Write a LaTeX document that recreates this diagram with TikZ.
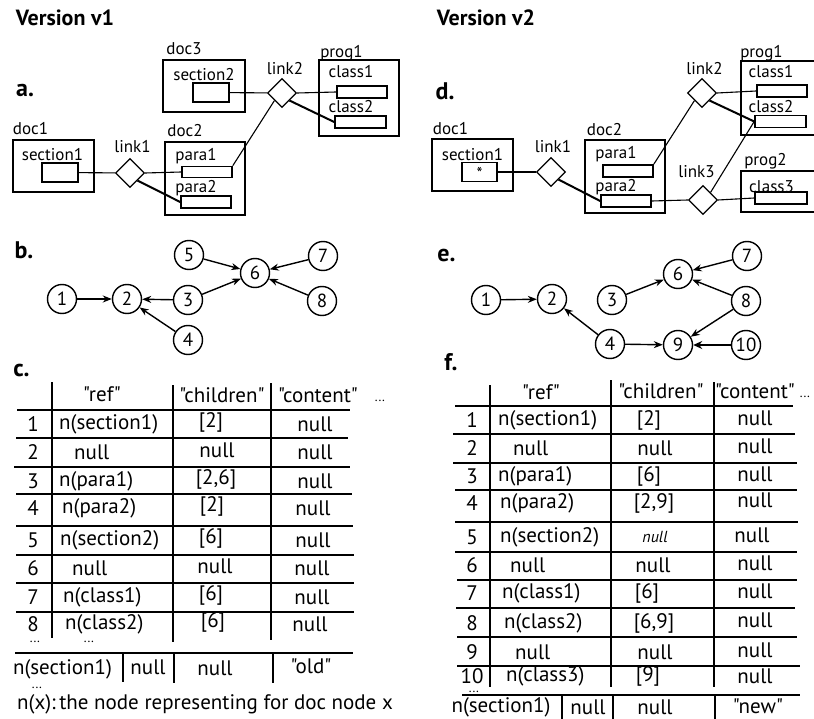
\documentclass[tikz,border=0pt]{standalone}
\usepackage{fontspec}
\setmainfont{PT Sans}[Ligatures=TeXOff]
\usetikzlibrary{shapes.geometric,arrows.meta}
\begin{document}
\begin{tikzpicture}[x=1pt,y=-1pt,
  box/.style={draw, line width=1.8pt, inner sep=0},
  slot/.style={draw, line width=1.6pt, inner sep=0},
  dia/.style={draw, diamond, aspect=1, minimum size=29, inner sep=0, line width=1.2pt},
  lbl/.style={font=\fontsize{17}{17}\selectfont, inner sep=0},
  conn/.style={line width=1.1pt},
  connb/.style={line width=2pt},
  vx/.style={circle, draw, line width=1.4pt, minimum size=29, inner sep=0, font=\fontsize{19}{19}\selectfont},
  arr/.style={line width=1.4pt, -{Stealth[length=9pt,width=7pt]}},
  arrb/.style={line width=2.6pt, -{Stealth[length=9pt,width=8pt]}},
  tl/.style={font=\fontsize{21}{21}\selectfont, inner sep=0},
  dots/.style={font=\fontsize{13}{13}\selectfont, inner sep=0},
  rule/.style={line width=1.5pt},
  panel/.style={font=\bfseries\fontsize{24}{24}\selectfont, inner sep=0},
  ttl/.style={font=\bfseries\fontsize{22}{22}\selectfont, inner sep=0}]
\clip (0,0) rectangle (814,719);
\fill[white] (0,0) rectangle (814,719);

% ---------- titles ----------
\node[ttl] (t1) at (65,17.5) {Version v1};
\node[ttl] (t2) at (486,17.5) {Version v2};

% ---------- panel a ----------
\node[panel] (pa) at (25,91) {a.};
\node[box, minimum width=82, minimum height=52] (a-doc3) at (204,86) {};
\node[lbl] (a-doc3l) at (184,49) {doc3};
\node[lbl] (a-sec2l) at (204,75) {section2};
\node[slot, minimum width=36, minimum height=19] (a-sec2) at (211,92.5) {};
\node[dia] (a-link2) at (282,93) {};
\node[lbl] (a-link2l) at (285,68.5) {link2};
\node[box, minimum width=80, minimum height=76] (a-prog1) at (359,98) {};
\node[lbl] (a-prog1l) at (341.5,53.5) {prog1};
\node[lbl] (a-cl1l) at (351,71.5) {class1};
\node[slot, minimum width=50, minimum height=12] (a-cl1) at (362,92) {};
\node[lbl] (a-cl2l) at (351,106.5) {class2};
\node[slot, minimum width=51, minimum height=12] (a-cl2) at (360.5,122) {};
\node[box, minimum width=81, minimum height=52] (a-doc1) at (53.5,166) {};
\node[lbl] (a-doc1l) at (30.5,129) {doc1};
\node[lbl] (a-sec1l) at (52.5,155) {section1};
\node[slot, minimum width=36, minimum height=19] (a-sec1) at (60,172.5) {};
\node[dia] (a-link1) at (130,173) {};
\node[lbl] (a-link1l) at (132.5,146.5) {link1};
\node[box, minimum width=80, minimum height=73] (a-doc2) at (205,178.5) {};
\node[lbl] (a-doc2l) at (185,131) {doc2};
\node[lbl] (a-p1l) at (196,156) {para1};
\node[slot, minimum width=50, minimum height=11] (a-p1) at (207,172) {};
\node[lbl] (a-p2l) at (196,188.5) {para2};
\node[slot, minimum width=50, minimum height=12] (a-p2) at (206,202) {};
\draw[conn] (a-sec1) -- (a-link1);
\draw[conn] (a-link1.east) -- (a-p1.west);
\draw[connb] (a-link1.south east) -- (a-p2.west);
\draw[conn] (a-p1.north east) -- (a-link2.south west);
\draw[conn] (a-sec2) -- (a-link2);
\draw[conn] (a-link2.east) -- (a-cl1.west);
\draw[connb] (a-link2.south east) -- (a-cl2.west);

% ---------- panel d ----------
\node[panel] (pd) at (445,91) {d.};
\node[box, minimum width=80, minimum height=74] (d-prog1) at (781,98) {};
\node[lbl] (d-prog1l) at (761.5,53.5) {prog1};
\node[lbl] (d-cl1l) at (771,71.5) {class1};
\node[slot, minimum width=50, minimum height=12] (d-cl1) at (782,91) {};
\node[lbl] (d-cl2l) at (771,106.5) {class2};
\node[slot, minimum width=51, minimum height=12] (d-cl2) at (780.5,121.5) {};
\node[dia] (d-link2) at (702,93) {};
\node[lbl] (d-link2l) at (704.5,69) {link2};
\node[box, minimum width=81, minimum height=52] (d-doc1) at (472.5,165) {};
\node[lbl] (d-doc1l) at (450.5,129) {doc1};
\node[lbl] (d-sec1l) at (472.5,154.5) {section1};
\node[slot, minimum width=35, minimum height=19] (d-sec1) at (479.5,172) {};
\node[font=\fontsize{17}{17}\selectfont, inner sep=0] (d-star) at (479.5,173) {*};
\node[dia] (d-link1) at (551,172) {};
\node[lbl] (d-link1l) at (553,146.5) {link1};
\node[box, minimum width=80, minimum height=73] (d-doc2) at (625,176.5) {};
\node[lbl] (d-doc2l) at (604.5,130) {doc2};
\node[lbl] (d-p1l) at (616,154) {para1};
\node[slot, minimum width=50, minimum height=12] (d-p1) at (628,171) {};
\node[lbl] (d-p2l) at (616,187.5) {para2};
\node[slot, minimum width=50, minimum height=12] (d-p2) at (626,201) {};
\node[dia] (d-link3) at (703,200) {};
\node[lbl] (d-link3l) at (696.5,171.5) {link3};
\node[box, minimum width=80, minimum height=41] (d-prog2) at (781,191.5) {};
\node[lbl] (d-prog2l) at (765.5,161.5) {prog2};
\node[lbl] (d-cl3l) at (771.5,186.5) {class3};
\node[slot, minimum width=52, minimum height=12] (d-cl3) at (781,198) {};
\draw[conn] (d-sec1) -- (d-link1);
\draw[connb] (d-link1.south east) -- (d-p2.west);
\draw[conn] (d-p1.north east) -- (d-link2.south west);
\draw[conn] (d-link2.east) -- (d-cl1.west);
\draw[connb] (d-link2.south east) -- (d-cl2.west);
\draw[conn] (d-p2.east) -- (d-link3.west);
\draw[conn] (d-link3.east) -- (d-cl3.west);
\draw[conn] (d-link3.north east) -- (d-cl2.west);

% ---------- panel b ----------
\node[panel] (pb) at (24,250) {b.};
\node[vx] (b1) at (62,299) {1};
\node[vx] (b2) at (127,299) {2};
\node[vx] (b3) at (188,300) {3};
\node[vx] (b4) at (188,340) {4};
\node[vx] (b5) at (189,255) {5};
\node[vx] (b6) at (255,273) {6};
\node[vx] (b7) at (323,256) {7};
\node[vx] (b8) at (322,301) {8};
\draw[arr] (b1) -- (b2);
\draw[arr] (b3) -- (b2);
\draw[arr] (b4) -- (b2);
\draw[arr] (b3) -- (b6);
\draw[arr] (b5) -- (b6);
\draw[arr] (b7) -- (b6);
\draw[arr] (b8) -- (b6);

% ---------- panel e ----------
\node[panel] (pe) at (446.5,256) {e.};
\node[vx] (e1) at (486,300) {1};
\node[vx] (e2) at (552,299) {2};
\node[vx] (e3) at (612,300) {3};
\node[vx] (e4) at (610,344) {4};
\node[vx] (e6) at (678,274) {6};
\node[vx] (e7) at (747,256) {7};
\node[vx] (e8) at (746,301) {8};
\node[vx] (e9) at (678,345) {9};
\node[vx] (e10) at (746,345) {10};
\draw[arr] (e1) -- (e2);
\draw[arr] (e4) -- (e2);
\draw[arr] (e3) -- (e6);
\draw[arr] (e7) -- (e6);
\draw[arr] (e8) -- (e6);
\draw[arr] (e8) -- (e9);
\draw[arr] (e4) -- (e9);
\draw[arrb] (e10) -- (e9);

% ---------- table c ----------
\node[panel] (pc) at (21.5,370) {c.};
\node[tl] (c-h1) at (102,394) {"ref"};
\node[tl] (c-h2) at (222,395) {"children"};
\node[tl] (c-h3) at (318,395) {"content"};
\node[dots] (c-h4) at (380,401) {...};
\draw[rule] (52,382) -- (52,638);
\draw[rule] (173,385) -- (173,642);
\draw[rule] (271,383) -- (271,640);
\foreach \y/\a/\b in {410/17/350, 438/16/348, 467/14/350, 494/16/352, 526/16/353, 555/16/354, 583/16/354, 612/16/354}
  \draw[rule] (\a,\y) -- (\b,\y);
\foreach \i/\y/\rx/\rf/\cx/\ch/\nx in {
  1/424/59/n(section1)/211/[2]/315,
  2/452/74/null/217/null/315,
  3/481/59/n(para1)/216/{[2,6]}/315,
  4/508/62/n(para2)/212/[2]/313,
  5/540/60/n(section2)/211/[6]/313,
  6/568/72/null/215/null/312,
  7/597/63/n(class1)/211/[6]/312,
  8/624/65/n(class2)/213/[6]/310}{
  \node[tl] (c-i\i) at (33,\y) {\i};
  \node[tl, anchor=west] (c-r\i) at (\rx,\y) {\rf};
  \node[tl] (c-c\i) at (\cx,\y-2) {\ch};
  \node[tl] (c-n\i) at (\nx,\y) {null};
}
\node[dots] (c-d1) at (35,642) {...};
\node[dots] (c-d2) at (89,642) {...};
\draw[rule] (15,653) -- (353,653);
\draw[rule] (123,653) -- (123,682);
\draw[rule] (174,653) -- (174,683);
\draw[rule] (273,653) -- (273,683);
\node[tl] (c-b1) at (62.5,669) {n(section1)};
\node[tl] (c-b2) at (148,667) {null};
\node[tl] (c-b3) at (215,668) {null};
\node[tl] (c-b4) at (311,666) {"old"};
\node[dots] (c-d3) at (37,688) {...};
\node[font=\fontsize{21}{21}\selectfont, inner sep=0] (c-note) at (205,704) {n(x):\,the node representing for doc node x};

% ---------- table f ----------
\node[panel] (pf) at (451,362) {f.};
\node[tl] (f-h1) at (541,392) {"ref"};
\node[tl] (f-h2) at (661,391) {"children"};
\node[tl] (f-h3) at (755,391) {"content"};
\node[dots] (f-h4) at (805,397) {...};
\draw[rule] (490,385) -- (490,687);
\draw[rule] (611,380) -- (611,687);
\draw[rule] (714,382) -- (714,687);
\foreach \y/\a/\b in {406/455/793, 434/453/795, 463/453/797, 490/455/797, 522/455/798, 552/455/797, 580/457/797, 608/456/795, 637/457/797, 666/457/800}
  \draw[rule] (\a,\y) -- (\b,\y);
\foreach \i/\y/\rx/\rf/\cx/\ch/\ny in {
  1/420/498/n(section1)/649/[2]/418,
  2/448/513/null/655/null/446,
  3/476/498/n(para1)/649/[6]/474,
  4/503/500/n(para2)/654/{[2,9]}/500,
  6/565/510/null/653/null/563,
  7/593/502/n(class1)/647/[6]/591,
  8/623/504/n(class2)/654/{[6,9]}/620,
  9/652/515/null/655/null/650,
  10/676/506/n(class3)/648/[9]/676}{
  \node[tl] (f-i\i) at (472,\y) {\i};
  \node[tl, anchor=west] (f-r\i) at (\rx,\y) {\rf};
  \node[tl] (f-c\i) at (\cx,\y) {\ch};
  \node[tl] (f-n\i) at (755,\ny) {null};
}
\node[tl] (f-i5) at (472,537) {5};
\node[tl, anchor=west] (f-r5) at (500,537) {n(section2)};
\node[font=\itshape\fontsize{16}{16}\selectfont, inner sep=0] (f-c5) at (655,537) {null};
\node[tl] (f-n5) at (752,535) {null};
\node[dots] (f-d1) at (474,692) {...};
\draw[rule] (462,695) -- (800,695);
\draw[rule] (562,695) -- (562,719);
\draw[rule] (613,695) -- (613,719);
\draw[rule] (715,695) -- (715,719);
\node[tl] (f-b1) at (501,707) {n(section1)};
\node[tl] (f-b2) at (588,707) {null};
\node[tl] (f-b3) at (655,707) {null};
\node[tl] (f-b4) at (758,706) {"new"};
\end{tikzpicture}
\end{document}
